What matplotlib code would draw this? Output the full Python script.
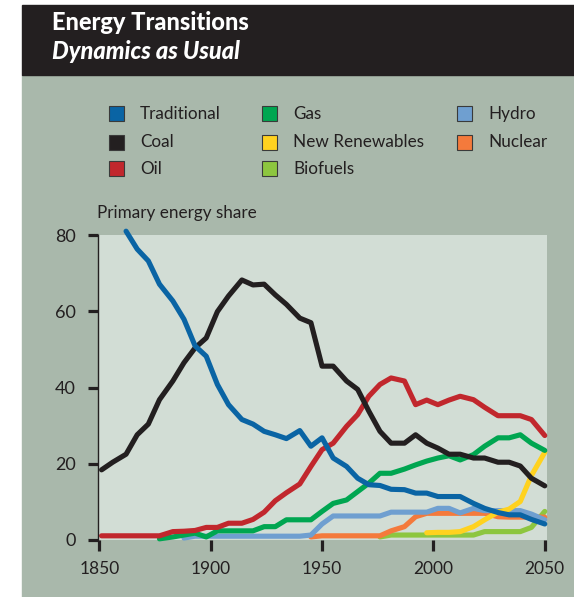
import numpy as np
import matplotlib.pyplot as plt
from matplotlib.patches import Rectangle

nan = np.nan

# x positions of the data points
years = [1851, 1856, 1862, 1867, 1872, 1877, 1883, 1888, 1893, 1898,
         1903, 1908, 1914, 1919, 1924, 1929, 1934, 1940, 1945, 1950,
         1955, 1961, 1966, 1971, 1976, 1981, 1987, 1992, 1997, 2002,
         2007, 2012, 2018, 2023, 2029, 2034, 2039, 2044, 2050]

traditional = [nan, nan, 81, 76.3, 73.2, 67.1, 62.7, 57.9, 50.9, 48.2,
               40.8, 35.5, 31.6, 30.4, 28.5, 27.6, 26.6, 28.7, 24.6, 26.8,
               21.5, 19.3, 16.2, 14.5, 14.3, 13.3, 13.2, 12.3, 12.3, 11.4,
               11.4, 11.4, 9.6, 8.3, 7.2, 6.6, 6.6, 5.4, 4.2]
coal = [18.4, 20.4, 22.5, 27.6, 30.4, 36.8, 41.7, 46.5, 50.4, 53.0,
        59.9, 64.0, 68.2, 66.9, 67.1, 64.3, 61.8, 58.2, 57.0, 45.6,
        45.6, 41.7, 39.5, 33.8, 28.5, 25.4, 25.4, 27.6, 25.4, 24.1,
        22.5, 22.5, 21.5, 21.5, 20.4, 20.4, 19.4, 16.2, 14.2]
oil = [1.1, 1.1, 1.1, 1.1, 1.1, 1.1, 2.2, 2.3, 2.5, 3.3,
       3.3, 4.4, 4.4, 5.4, 7.3, 10.3, 12.4, 14.7, 19.3, 23.7,
       25.4, 29.8, 32.9, 37.7, 40.8, 42.5, 41.7, 35.5, 36.7, 35.5,
       36.7, 37.7, 36.8, 34.8, 32.6, 32.6, 32.6, 31.6, 27.4]
gas = [nan, nan, nan, nan, nan, 0.3, 0.8, 1.3, 1.8, 0.8,
       2.4, 2.4, 2.4, 2.4, 3.5, 3.5, 5.3, 5.3, 5.3, 7.5,
       9.6, 10.5, 12.7, 14.9, 17.5, 17.5, 18.6, 19.7, 20.7, 21.5,
       22.1, 21.0, 22.4, 24.6, 26.8, 26.8, 27.6, 25.4, 23.5]
new_renewables = [nan] * 28 + [1.9, 2.0, 2.0, 2.2, 3.5, 5.3, 7.3, 8.1, 10.1, 16.9, 23.0]
biofuels = [nan] * 24 + [0.8, 1.3, 1.3, 1.3, 1.3, 1.3, 1.3, 1.3, 1.3, 2.2, 2.2, 2.2, 2.2, 3.3, 7.5]
hydro = [nan] * 7 + [0.5] + [1.0] * 10 + [1.3, 4.2] + [6.3] * 5 + [7.3] * 4 + \
        [8.3, 8.3, 7.1, 8.3, 7.7, 7.7, 7.7, 7.7, 6.8, 5.3]
nuclear = [nan] * 18 + [0.8] + [1.1] * 6 + [2.4, 3.5, 6.1] + [7.0] * 6 + [6.1, 6.0, 6.0, 6.0, 6.0]

labels = ['Traditional', 'Coal', 'Oil', 'Gas', 'New Renewables', 'Biofuels', 'Hydro', 'Nuclear']
series = [traditional, coal, oil, gas, new_renewables, biofuels, hydro, nuclear]
colors = ['#0a64a4', '#231f20', '#c1272d', '#00a651', '#ffd21f', '#8dc63f', '#6f9fd0', '#f47a3c']
draw_order = [5, 7, 6, 4, 3, 2, 1, 0]

W, H = 574, 597
fig = plt.figure(figsize=(W / 100, H / 100), dpi=100)
fig.patch.set_facecolor('white')
plt.rcParams['font.family'] = ['Lato', 'DejaVu Sans']

def px_rect(x0, y0, x1, y1, color):
    fig.patches.append(Rectangle((x0 / W, 1 - y1 / H), (x1 - x0) / W, (y1 - y0) / H,
                                 transform=fig.transFigure, color=color, zorder=-10))

px_rect(22, 75, W, H, '#a9b8ab')
px_rect(22, 5, W, 75, '#231f20')

fig.text(52 / W, 1 - 30 / H, 'Energy Transitions', color='white', fontsize=17,
         fontweight='black', va='baseline')
fig.text(52 / W, 1 - 59 / H, 'Dynamics as Usual', color='white', fontsize=17,
         fontweight='black', style='italic', va='baseline')

# legend, column-major, 3 rows
col_x = [109, 262, 457]
row_y = [114, 142, 169]
for i, (lab, c) in enumerate(zip(labels, colors)):
    cx, ry = col_x[i // 3], row_y[i % 3]
    fig.patches.append(Rectangle((cx / W, 1 - (ry + 7.5) / H), 15 / W, 15 / H,
                                 transform=fig.transFigure, facecolor=c,
                                 edgecolor='#3a3a3a', linewidth=0.8, zorder=2))
    fig.text((cx + 31) / W, 1 - ry / H, lab, color='#231f20', fontsize=12.3, va='center')

fig.text(97 / W, 1 - 213 / H, 'Primary energy share', color='#231f20', fontsize=12.3, va='center')

ax = fig.add_axes([98 / W, 1 - 540 / H, (547 - 98) / W, (540 - 235) / H], zorder=5)
ax.set_facecolor('#d2ddd5')
for i in draw_order:
    ax.plot(years, series[i], color=colors[i], lw=3.7, solid_joinstyle='round',
            solid_capstyle='round', clip_on=False)

ax.set_xlim(1849.4, 2051)
ax.set_ylim(0, 80)
ax.set_xticks([1850, 1900, 1950, 2000, 2050])
ax.set_yticks([0, 20, 40, 60, 80])
for s in ['top', 'right', 'bottom']:
    ax.spines[s].set_visible(False)
ax.spines['left'].set_linewidth(1.0)
ax.spines['left'].set_color('#231f20')
ax.tick_params(axis='y', length=7, width=2.3, color='#231f20', pad=9, labelsize=13,
               labelcolor='#231f20')
ax.tick_params(axis='x', length=8, width=2.3, color='#231f20', pad=7, labelsize=12.5,
               labelcolor='#231f20')

fig.savefig('out.png', dpi=100)
